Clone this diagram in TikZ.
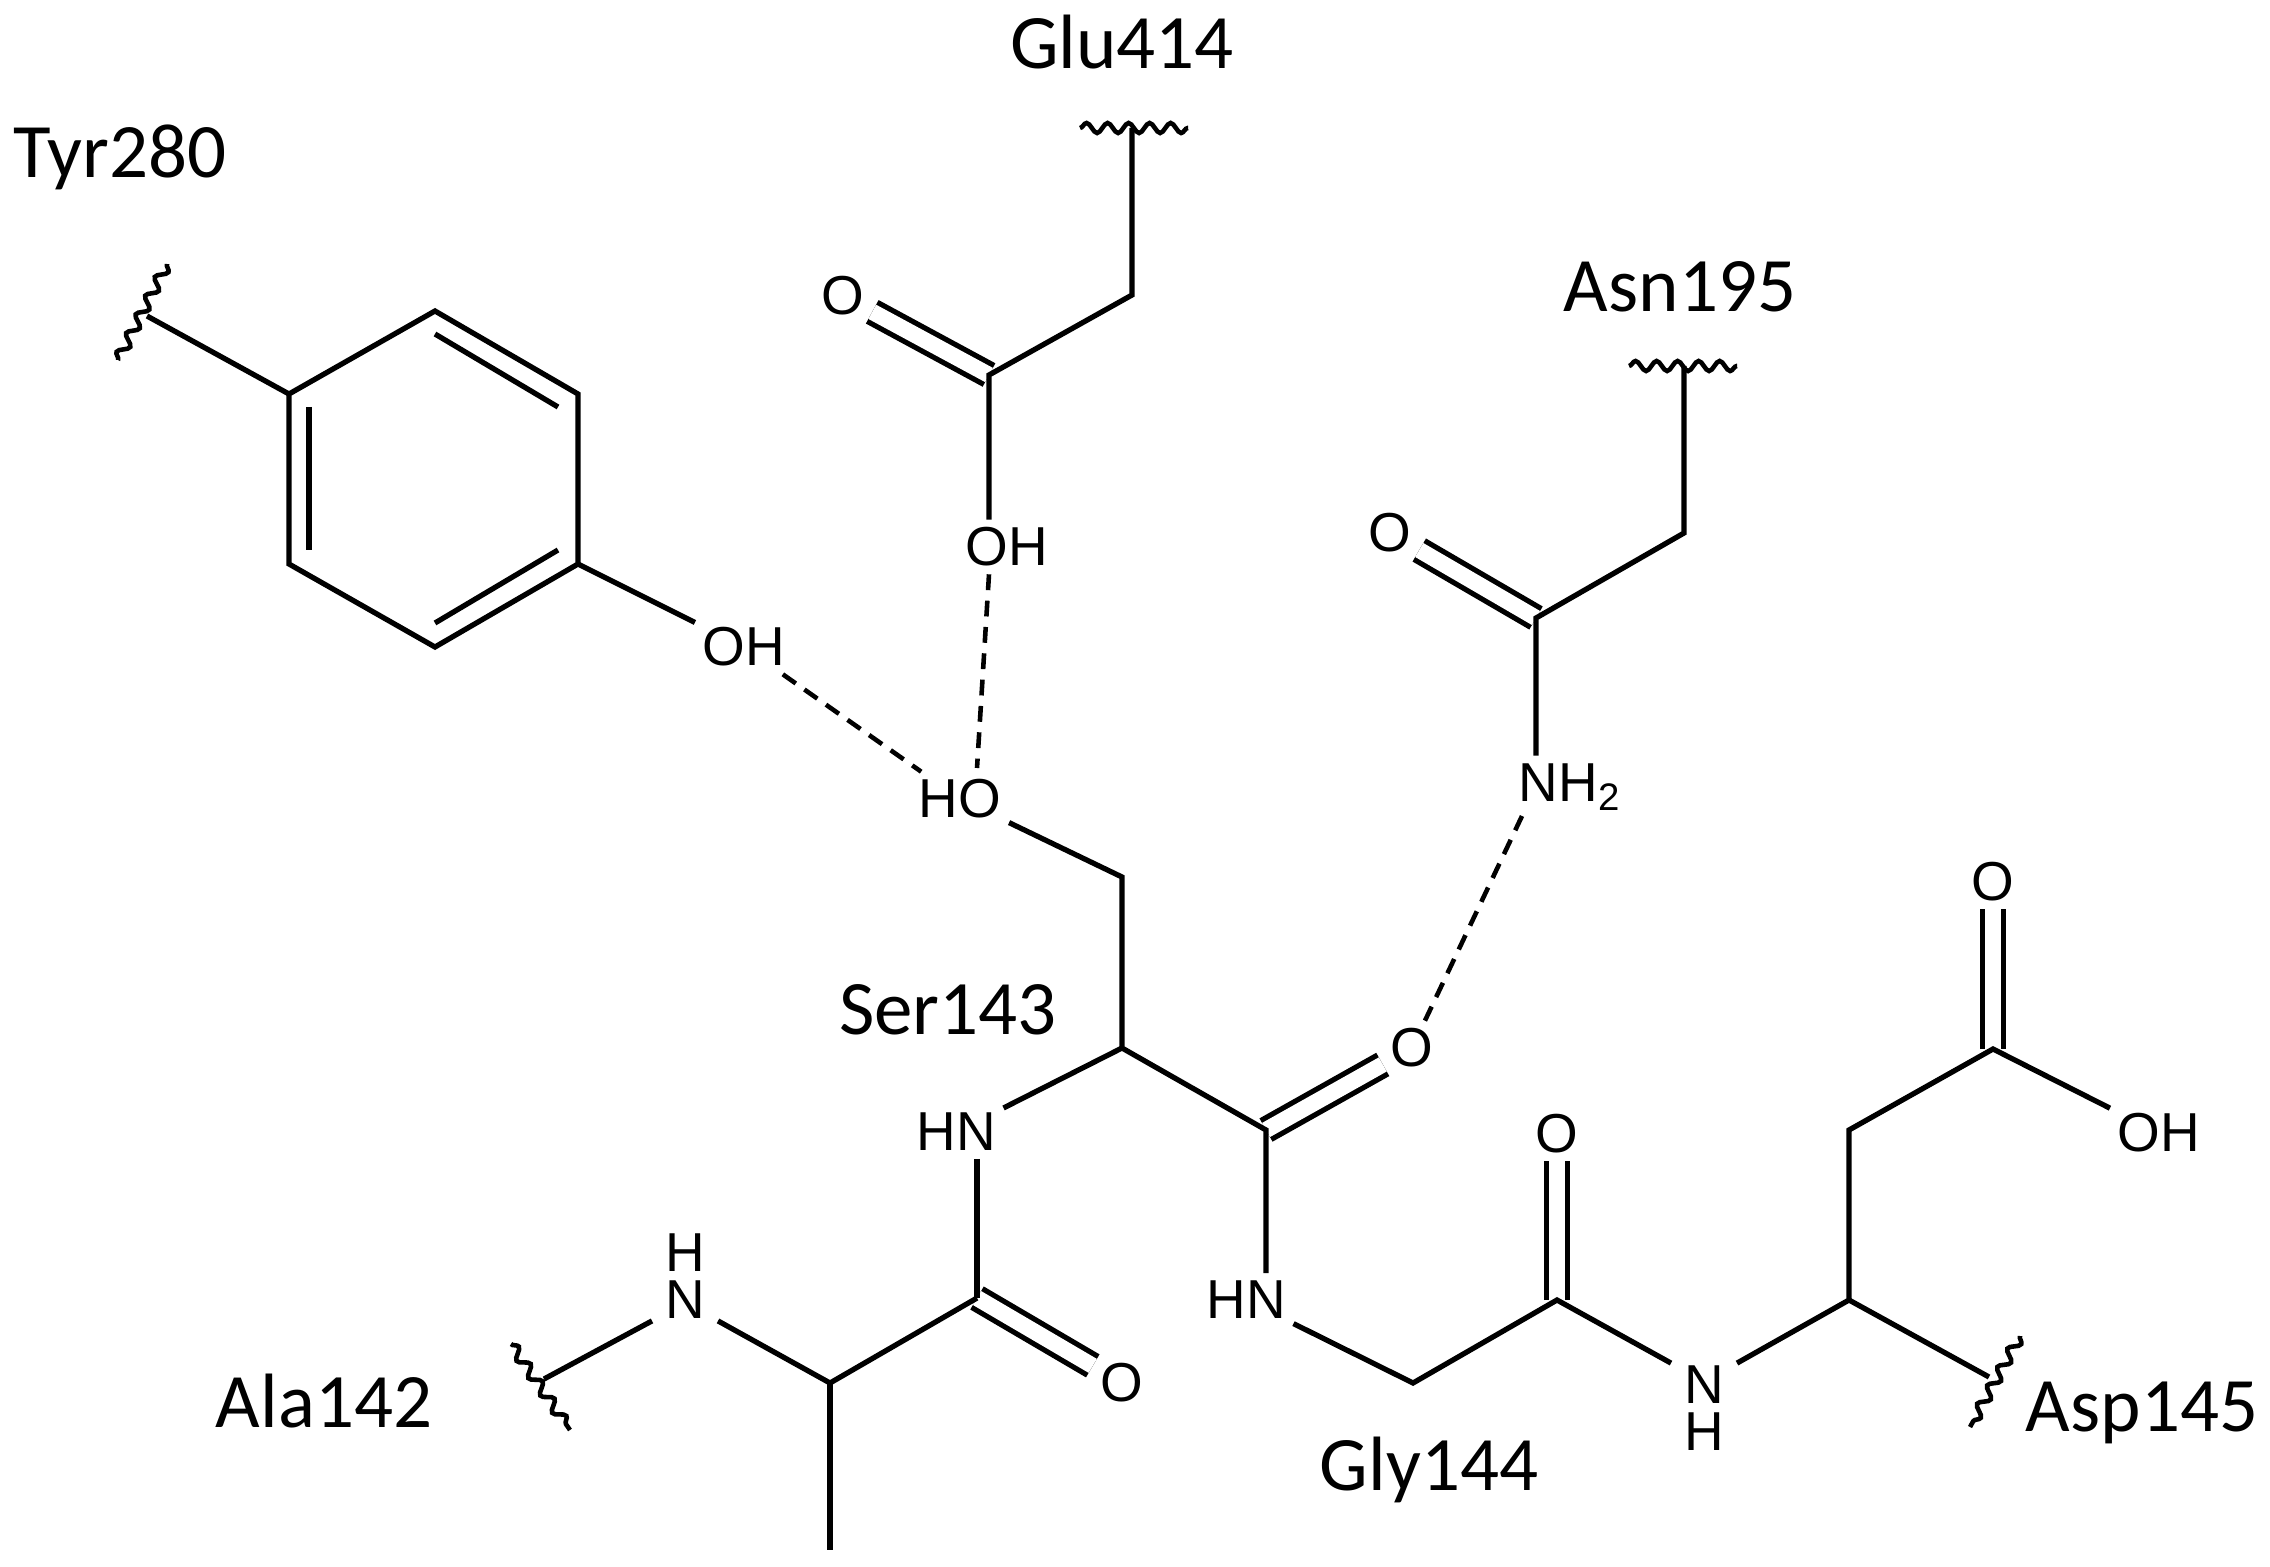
\documentclass[tikz,border=0pt]{standalone}
\usepackage{fontspec}
\usepackage{tikz}
\usetikzlibrary{decorations.pathmorphing}
\setmainfont{Liberation Sans}
\newfontfamily\residuefont{Carlito}

\begin{document}
\begin{tikzpicture}[
  x=0.01cm, y=-0.01cm,
  line width=1.5pt,
  atom/.style={inner sep=1.5pt, font=\fontsize{15.6}{18}\selectfont},
  stacked/.style={inner ysep=0pt, inner xsep=3pt, align=center, font=\fontsize{15.6}{13.3}\selectfont},
  residue/.style={inner sep=0pt, font=\residuefont\fontsize{21.9}{26}\selectfont},
  dbl/.style={double, double distance=4.6pt},
  hbond/.style={line width=1.3pt, dash pattern=on 4.5pt off 3pt},
  wavy/.style={line width=1.3pt, decorate, decoration={snake, amplitude=0.5mm, segment length=2.1mm}}
]
\useasboundingbox (0,0) rectangle (2270,1567);

\node[residue] (tyr) at (120,157) {Tyr280};
\node[residue] (glu) at (1122,42) {Glu414};
\node[residue] (asn) at (1680,287) {Asn195};
\node[residue] (ser) at (948,1010) {Ser143};
\node[residue] (ala) at (324,1401) {Ala142};
\node[residue] (gly) at (1429,1470) {Gly144};
\node[residue] (asp) at (2142,1413) {Asp145};

\node[atom] (tyrOH) at (744,647) {OH};
\node[atom] (gluO) at (843,296) {O};
\node[atom] (gluOH) at (1007,547) {OH};
\node[atom] (serHO) at (960,799) {HO};
\node[atom] (asnO) at (1390,533) {O};
\node[atom] (asnN) at (1570,787) {NH\textsubscript{2}};
\node[atom] (serN) at (956,1132) {HN};
\node[atom] (serO) at (1412,1048) {O};
\node[stacked] (alaN) at (685,1276) {H\\N};
\node[atom] (alaO) at (1122,1383) {O};
\node[atom] (glyN) at (1246,1300) {HN};
\node[atom] (glyO) at (1557,1134) {O};
\node[stacked] (aspN) at (1704,1408) {N\\H};
\node[atom] (aspO) at (1993,882) {O};
\node[atom] (aspOH) at (2159,1133) {OH};

\coordinate (r1) at (435,311);
\coordinate (r2) at (578,394);
\coordinate (r3) at (578,564);
\coordinate (r4) at (435,647);
\coordinate (r5) at (289,564);
\coordinate (r6) at (289,394);
\coordinate (i1) at (435,334);
\coordinate (i2) at (558,407);
\coordinate (i3) at (309,407);
\coordinate (i4) at (309,550);
\coordinate (i5) at (435,623);
\coordinate (i6) at (558,550);
\coordinate (tyrW) at (147,316);
\coordinate (tyrA) at (167,264);
\coordinate (tyrB) at (118,360);

\coordinate (gluW) at (1132,128);
\coordinate (gluA) at (1080,128);
\coordinate (gluB) at (1188,128);
\coordinate (gluC1) at (1132,295);
\coordinate (gluC2) at (989,375);

\coordinate (asnW) at (1684,366);
\coordinate (asnA) at (1629,366);
\coordinate (asnB) at (1737,366);
\coordinate (asnC1) at (1684,533);
\coordinate (asnC2) at (1536,618);
\coordinate (asnLow) at (1522,816);

\coordinate (serTop) at (977,768);
\coordinate (serCb) at (1122,877);
\coordinate (serCa) at (1122,1048);
\coordinate (serC) at (1266,1130);

\coordinate (alaW) at (544,1379);
\coordinate (alaA) at (511,1344);
\coordinate (alaB) at (570,1430);
\coordinate (alaCa) at (830,1383);
\coordinate (alaCb) at (830,1550);
\coordinate (alaC) at (977,1298);

\coordinate (glyCa) at (1413,1383);
\coordinate (glyC) at (1557,1300);

\coordinate (aspCa) at (1849,1300);
\coordinate (aspCb) at (1849,1130);
\coordinate (aspC) at (1993,1049);
\coordinate (aspW) at (1989,1377);
\coordinate (aspA) at (2020,1336);
\coordinate (aspB) at (1970,1427);

\draw[dbl] (gluC2) -- (gluO);
\draw[dbl] (asnC2) -- (asnO);
\draw[dbl] (serC) -- (serO);
\draw[dbl] (alaC) -- (alaO);
\draw[dbl] (glyC) -- (glyO);
\draw[dbl] (aspC) -- (aspO);

\draw[line join=miter] (r1) -- (r2) -- (r3) -- (r4) -- (r5) -- (r6) -- cycle;
\draw (i1) -- (i2);
\draw (i3) -- (i4);
\draw (i5) -- (i6);
\draw (tyrW) -- (r6);
\draw (r3) -- (tyrOH);
\draw[wavy] (tyrA) -- (tyrB);

\draw[wavy] (gluA) -- (gluB);
\draw (gluW) -- (gluC1) -- (gluC2) -- (gluC2 |- gluOH.north);

\draw[wavy] (asnA) -- (asnB);
\draw (asnW) -- (asnC1) -- (asnC2) -- (asnC2 |- asnN.north);

\draw (serHO) -- (serCb) -- (serCa) -- (serC) -- (serC |- glyN.north);
\draw (serCa) -- (serN);
\draw (alaC |- serN.south) -- (alaC);

\draw[wavy] (alaA) -- (alaB);
\draw (alaW) -- (alaN.south west);
\draw (alaN.south east) -- (alaCa) -- (alaC);
\draw (alaCa) -- (alaCb);

\draw (glyN) -- (glyCa) -- (glyC) -- (aspN.north west);
\draw (aspN.north east) -- (aspCa) -- (aspCb) -- (aspC) -- (aspOH);
\draw (aspCa) -- (aspW);
\draw[wavy] (aspA) -- (aspB);

\draw[hbond] (tyrOH) -- (serHO);
\draw[hbond] (gluC2 |- gluOH.south) -- (serTop);
\draw[hbond] (asnLow) -- (serO);
\end{tikzpicture}
\end{document}
